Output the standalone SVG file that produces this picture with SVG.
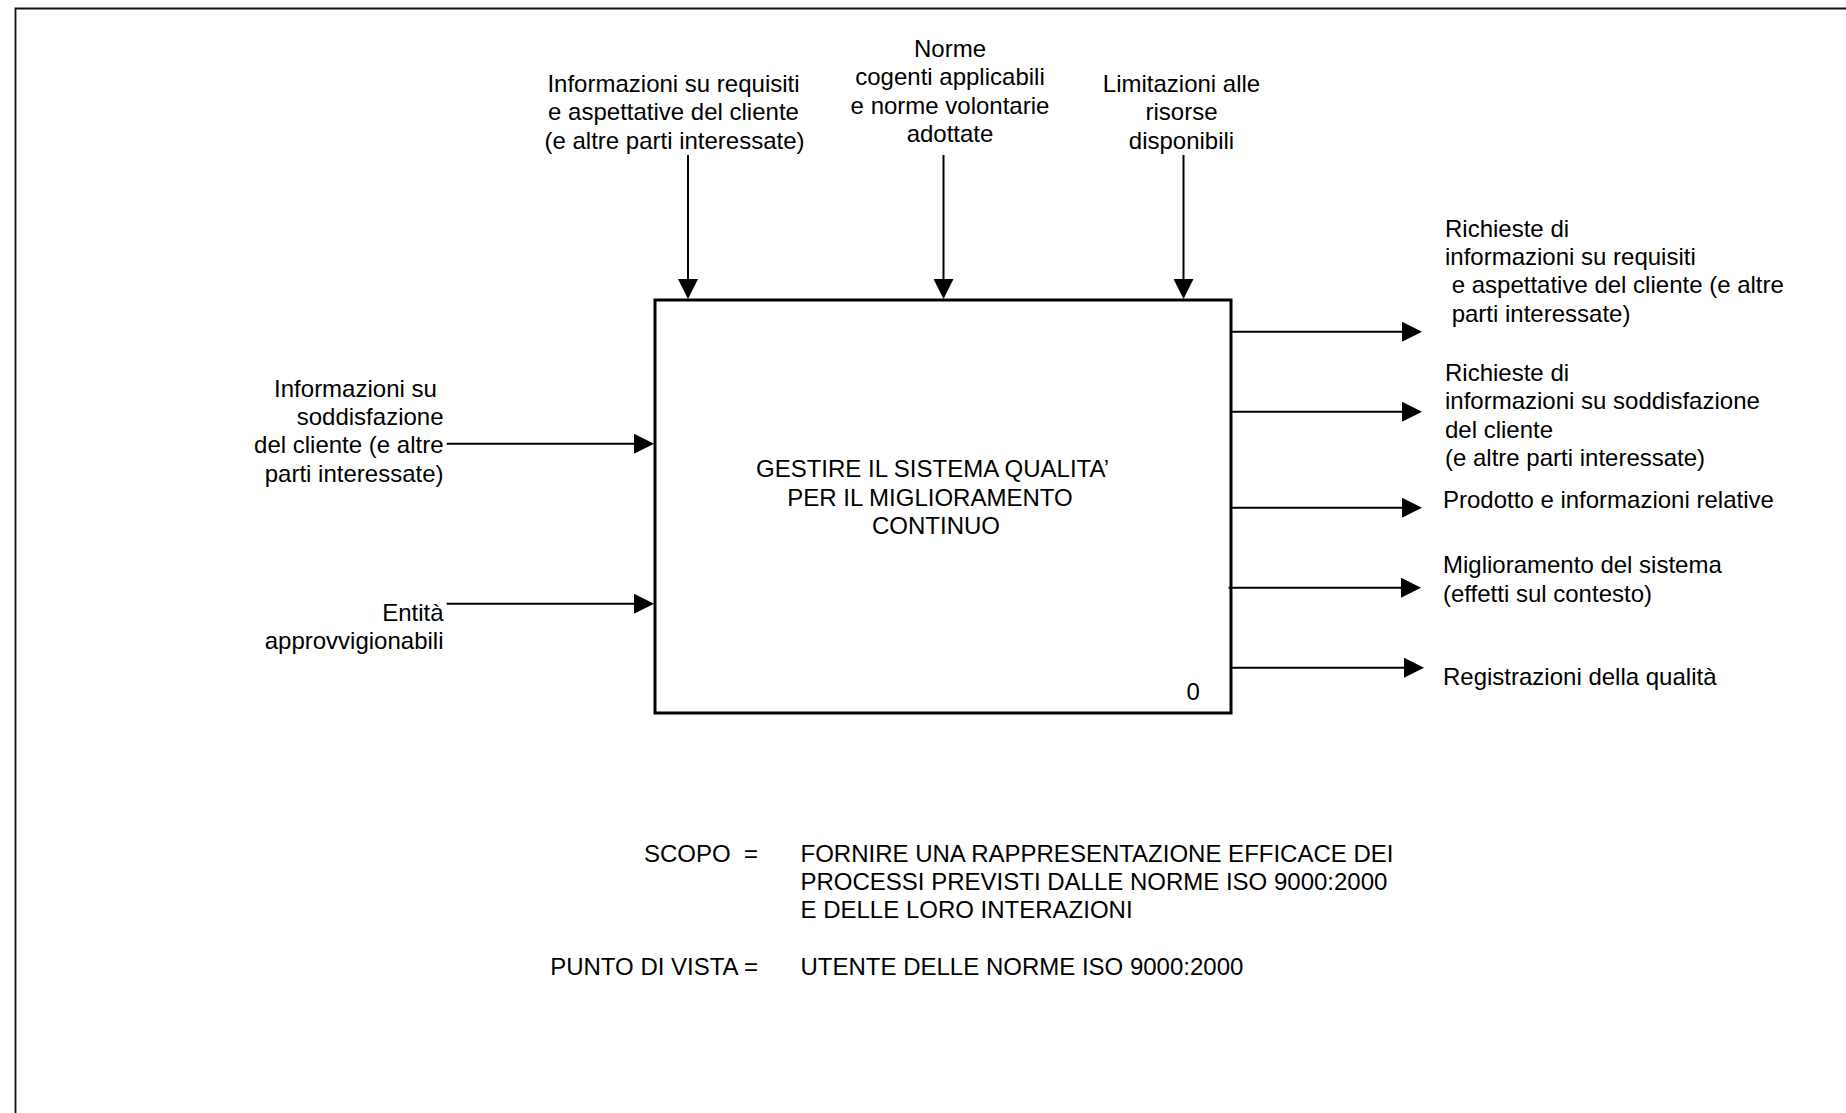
<svg xmlns="http://www.w3.org/2000/svg" width="1846" height="1113" viewBox="0 0 1846 1113">
<style>
text{font-family:"Liberation Sans",Arial,sans-serif;font-size:24px;fill:#000}
.c{text-anchor:middle}
.e{text-anchor:end}
.conn{stroke:#000;stroke-width:2;fill:none;marker-end:url(#ah)}
.box{fill:#fff;stroke:#000;stroke-width:3}
.frame{fill:none;stroke:#111;stroke-width:1.8}
</style>
<defs>
<marker id="ah" markerUnits="userSpaceOnUse" markerWidth="20" markerHeight="20" refX="10" refY="10" orient="auto" viewBox="0 0 20 20">
<path d="M0,0 L20,10 L0,20 Z" fill="#000"/>
</marker>
</defs>
<rect width="1846" height="1113" fill="#fff"/>
<path class="frame" d="M15.5,1120 V8.5 H1860"/>

<g id="node-main">
<rect class="box" x="655" y="300" width="576" height="413"/>
<text class="c" x="932.5" y="477.3">GESTIRE IL SISTEMA QUALITA’</text>
<text class="c" x="930" y="505.6">PER IL MIGLIORAMENTO</text>
<text class="c" x="936" y="533.9">CONTINUO</text>
<text x="1186.5" y="700">0</text>
</g>

<g id="connectors">
<line class="conn" x1="688" y1="155" x2="688" y2="289"/>
<line class="conn" x1="943.5" y1="155" x2="943.5" y2="289"/>
<line class="conn" x1="1183.5" y1="155" x2="1183.5" y2="289"/>
<line class="conn" x1="446.7" y1="443.7" x2="644" y2="443.7"/>
<line class="conn" x1="446.7" y1="603.7" x2="644" y2="603.7"/>
<line class="conn" x1="1231" y1="331.7" x2="1412" y2="331.7"/>
<line class="conn" x1="1231" y1="411.7" x2="1412" y2="411.7"/>
<line class="conn" x1="1231" y1="507.7" x2="1412" y2="507.7"/>
<line class="conn" x1="1228.6" y1="587.7" x2="1411" y2="587.7"/>
<line class="conn" x1="1231" y1="667.7" x2="1414" y2="667.7"/>
</g>

<g id="in-top-1">
<text class="c" x="673.5" y="92">Informazioni su requisiti</text>
<text class="c" x="673.5" y="120.3">e aspettative del cliente</text>
<text class="c" x="674.5" y="148.6">(e altre parti interessate)</text>
</g>
<g id="in-top-2">
<text class="c" x="950" y="57">Norme</text>
<text class="c" x="950" y="85.3">cogenti applicabili</text>
<text class="c" x="950" y="113.6">e norme volontarie</text>
<text class="c" x="950" y="141.9">adottate</text>
</g>
<g id="in-top-3">
<text class="c" x="1181.5" y="92">Limitazioni alle</text>
<text class="c" x="1181.5" y="120.3">risorse</text>
<text class="c" x="1181.5" y="148.6">disponibili</text>
</g>

<g id="in-left-1">
<text class="e" x="443.5" y="396.7" xml:space="preserve">Informazioni su </text>
<text class="e" x="443.5" y="425">soddisfazione</text>
<text class="e" x="443.5" y="453.3">del cliente (e altre</text>
<text class="e" x="443.5" y="481.6">parti interessate)</text>
</g>
<g id="in-left-2">
<text class="e" x="443.5" y="620.5">Entità</text>
<text class="e" x="443.5" y="648.8">approvvigionabili</text>
</g>

<g id="out-1">
<text x="1445" y="236.7">Richieste di</text>
<text x="1445" y="265">informazioni su requisiti</text>
<text x="1445" y="293.3" xml:space="preserve"> e aspettative del cliente (e altre</text>
<text x="1445" y="321.6" xml:space="preserve"> parti interessate)</text>
</g>
<g id="out-2">
<text x="1445" y="381">Richieste di</text>
<text x="1445" y="409.3">informazioni su soddisfazione</text>
<text x="1445" y="437.6">del cliente</text>
<text x="1445" y="465.9">(e altre parti interessate)</text>
</g>
<g id="out-3">
<text x="1443" y="508.3">Prodotto e informazioni relative</text>
</g>
<g id="out-4">
<text x="1443" y="573.3">Miglioramento del sistema</text>
<text x="1443" y="601.6">(effetti sul contesto)</text>
</g>
<g id="out-5">
<text x="1443" y="685">Registrazioni della qualità</text>
</g>

<g id="purpose">
<text class="e" x="758" y="861.7" xml:space="preserve">SCOPO  =</text>
<text x="800.5" y="861.7">FORNIRE UNA RAPPRESENTAZIONE EFFICACE DEI</text>
<text x="800.5" y="890">PROCESSI PREVISTI DALLE NORME ISO 9000:2000</text>
<text x="800.5" y="918.3">E DELLE LORO INTERAZIONI</text>
<text class="e" x="758" y="975">PUNTO DI VISTA =</text>
<text x="800.5" y="975">UTENTE DELLE NORME ISO 9000:2000</text>
</g>
</svg>
